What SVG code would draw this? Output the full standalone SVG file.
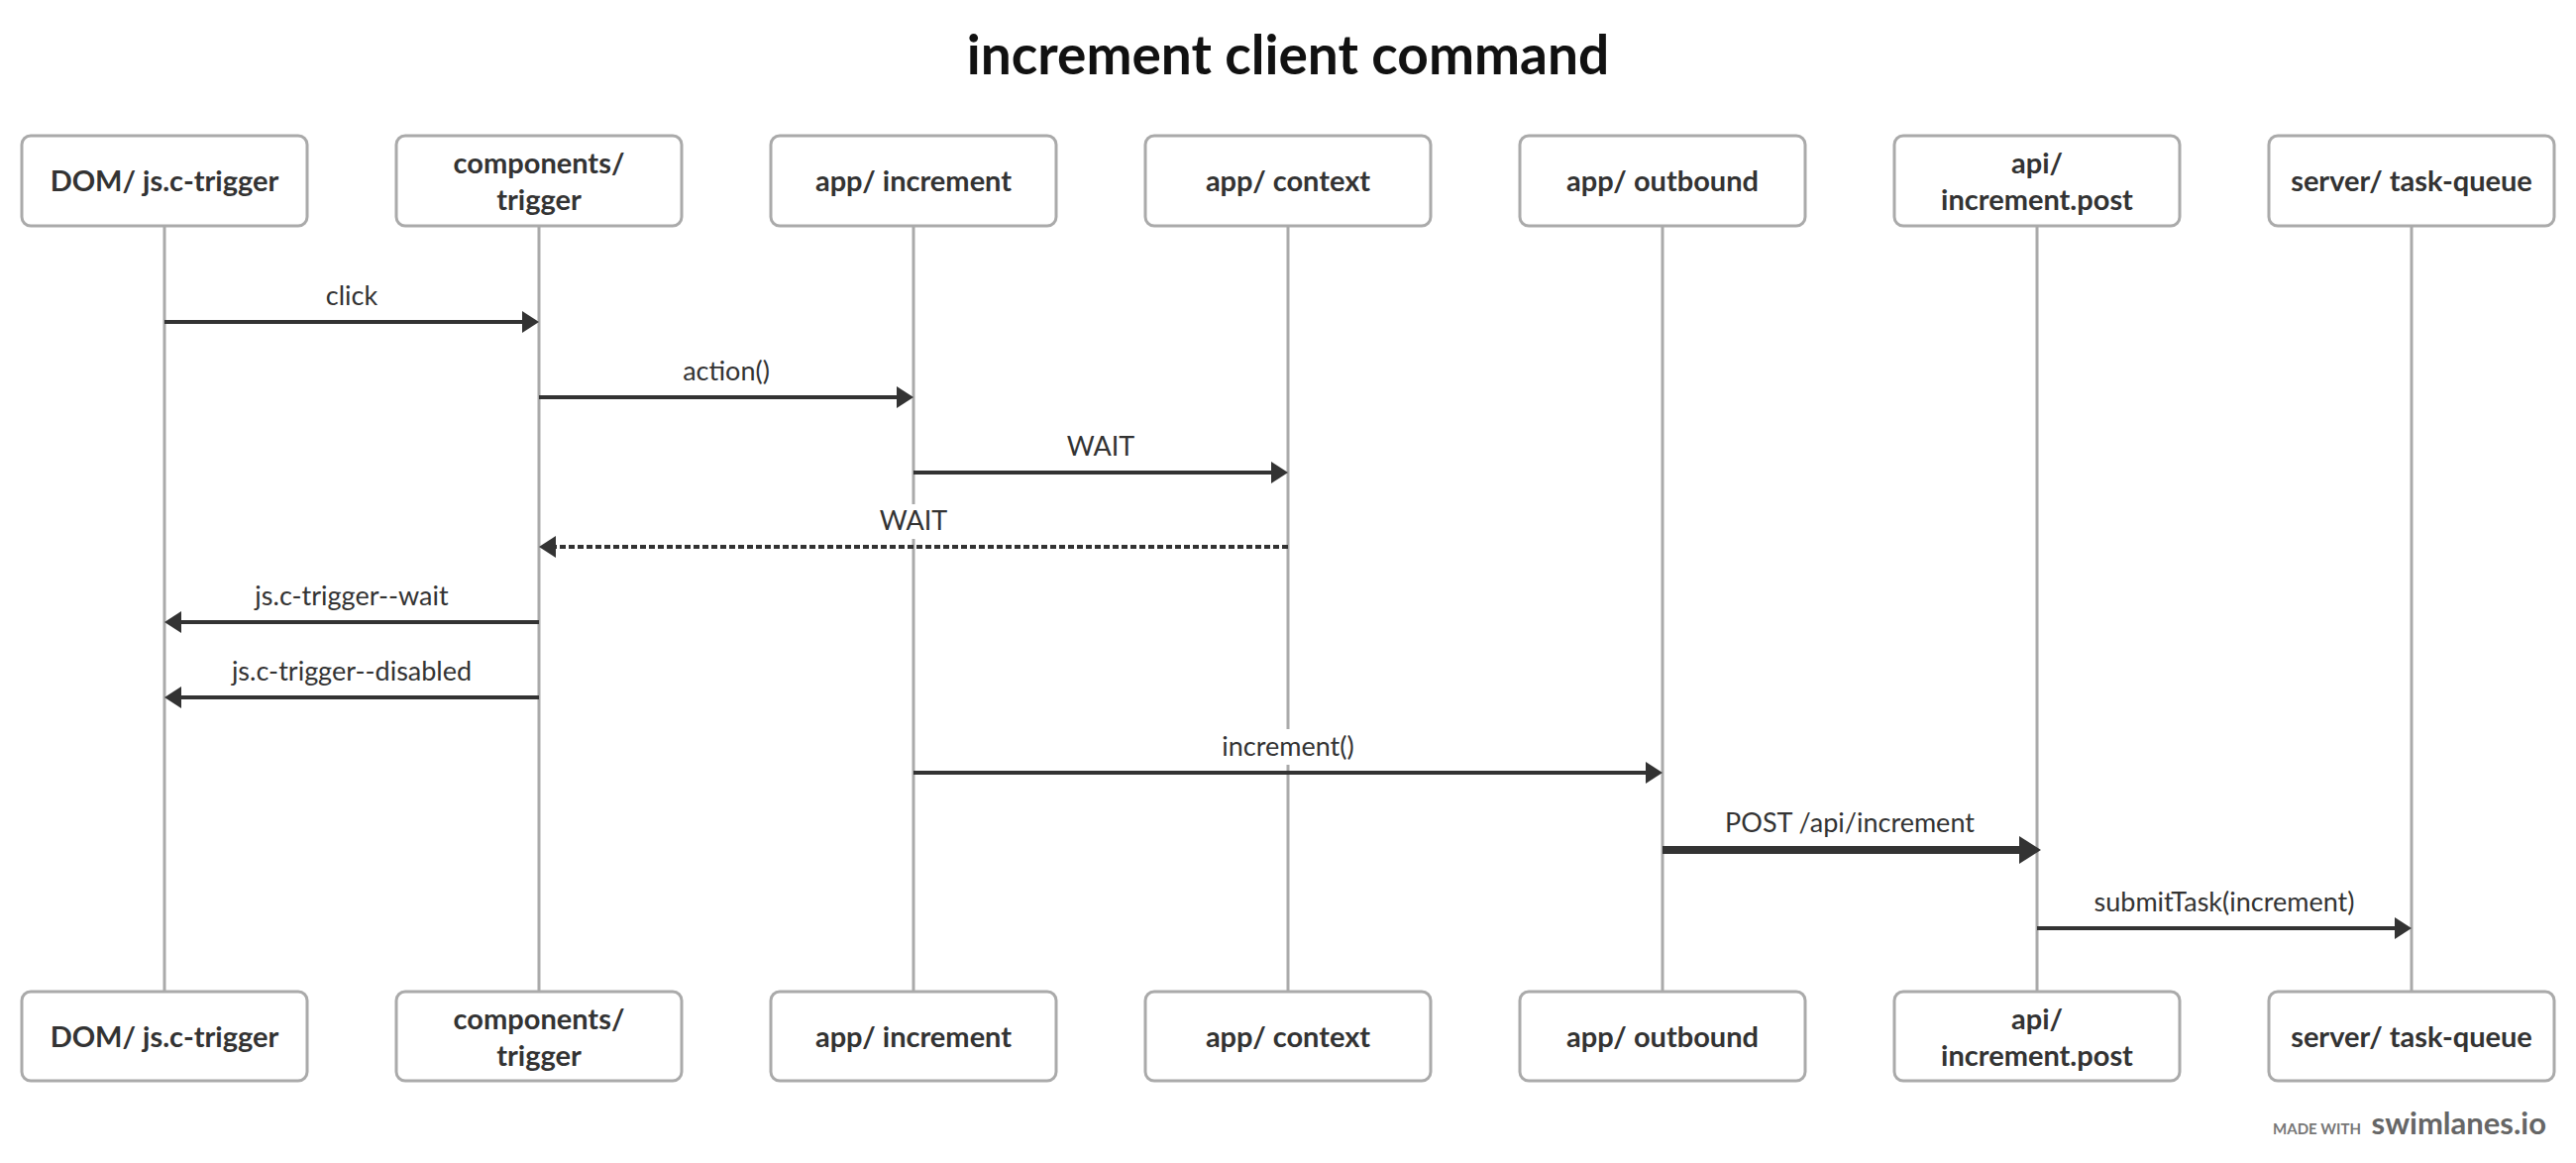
<svg xmlns="http://www.w3.org/2000/svg" width="2600" height="1174" viewBox="0 0 2600 1174">
<style>
.bg{fill:#fff}
.box{fill:#fff;stroke:#aaa;stroke-width:3}
.life{stroke:#aaa;stroke-width:3}
.nt{font-family:Lato,"Liberation Sans",sans-serif;font-weight:700;font-size:29px;fill:#333;text-anchor:middle}
.title{font-family:Lato,"Liberation Sans",sans-serif;font-weight:700;font-size:55px;fill:#111;text-anchor:middle}
.lbl{font-family:Lato,"Liberation Sans",sans-serif;font-weight:400;font-size:27px;fill:#333;text-anchor:middle}
.lblbg{fill:#fff}
.msg{stroke:#333;stroke-width:4;fill:none}
.dash{stroke-dasharray:6 3;stroke-width:4}
.thick{stroke-width:8}
.foot1{font-family:Lato,"Liberation Sans",sans-serif;font-weight:700;font-size:15px;fill:#777;text-anchor:end}
.foot2{font-family:Lato,"Liberation Sans",sans-serif;font-weight:700;font-size:31px;fill:#666;text-anchor:end}
</style>
<defs>
<marker id="ah" markerUnits="userSpaceOnUse" viewBox="0 -11 17 22" refX="1" refY="0" markerWidth="17" markerHeight="22" orient="auto">
<path d="M0,-11 L17,0 L0,11 Z" fill="#333"/>
</marker>
<marker id="ahBig" markerUnits="userSpaceOnUse" viewBox="0 -14 22 28" refX="1" refY="0" markerWidth="22" markerHeight="28" orient="auto">
<path d="M0,-14 L22,0 L0,14 Z" fill="#333"/>
</marker>
</defs>
<rect class="bg" x="0" y="0" width="2600" height="1174"/>
<text class="title" x="1300" y="75">increment client command</text>

<g id="lifelines">
<line class="life" x1="166" y1="229" x2="166" y2="1000"/>
<line class="life" x1="544" y1="229" x2="544" y2="1000"/>
<line class="life" x1="922" y1="229" x2="922" y2="1000"/>
<line class="life" x1="1300" y1="229" x2="1300" y2="1000"/>
<line class="life" x1="1678" y1="229" x2="1678" y2="1000"/>
<line class="life" x1="2056" y1="229" x2="2056" y2="1000"/>
<line class="life" x1="2434" y1="229" x2="2434" y2="1000"/>
</g>

<g id="connectors">
<g id="m1"><path class="msg" d="M166,325 H528" marker-end="url(#ah)"/><text class="lbl" x="355" y="308">click</text></g>
<g id="m2"><path class="msg" d="M544,401 H906" marker-end="url(#ah)"/><text class="lbl" x="733" y="384">action()</text></g>
<g id="m3"><path class="msg" d="M922,477 H1284" marker-end="url(#ah)"/><text class="lbl" x="1111" y="460">WAIT</text></g>
<g id="m4"><path class="msg dash" d="M1300,552 H560" marker-end="url(#ah)"/><rect class="lblbg" x="886" y="509" width="72" height="35"/><text class="lbl" x="922" y="535">WAIT</text></g>
<g id="m5"><path class="msg" d="M544,628 H182" marker-end="url(#ah)"/><text class="lbl" x="355" y="611">js.c-trigger--wait</text></g>
<g id="m6"><path class="msg" d="M544,704 H182" marker-end="url(#ah)"/><text class="lbl" x="355" y="687">js.c-trigger--disabled</text></g>
<g id="m7"><path class="msg" d="M922,780 H1662" marker-end="url(#ah)"/><rect class="lblbg" x="1226" y="736" width="148" height="36"/><text class="lbl" x="1300" y="763">increment()</text></g>
<g id="m8"><path class="msg thick" d="M1678,858 H2039" marker-end="url(#ahBig)"/><text class="lbl" x="1867" y="840">POST /api/increment</text></g>
<g id="m9"><path class="msg" d="M2056,937 H2418" marker-end="url(#ah)"/><text class="lbl" x="2245" y="920">submitTask(increment)</text></g>
</g>

<g id="n1-top"><rect class="box" x="22" y="137" width="288" height="91" rx="9"/><text class="nt" x="166" y="193">DOM/ js.c-trigger</text></g>
<g id="n2-top"><rect class="box" x="400" y="137" width="288" height="91" rx="9"/><text class="nt" x="544" y="175">components/</text><text class="nt" x="544" y="212">trigger</text></g>
<g id="n3-top"><rect class="box" x="778" y="137" width="288" height="91" rx="9"/><text class="nt" x="922" y="193">app/ increment</text></g>
<g id="n4-top"><rect class="box" x="1156" y="137" width="288" height="91" rx="9"/><text class="nt" x="1300" y="193">app/ context</text></g>
<g id="n5-top"><rect class="box" x="1534" y="137" width="288" height="91" rx="9"/><text class="nt" x="1678" y="193">app/ outbound</text></g>
<g id="n6-top"><rect class="box" x="1912" y="137" width="288" height="91" rx="9"/><text class="nt" x="2056" y="175">api/</text><text class="nt" x="2056" y="212">increment.post</text></g>
<g id="n7-top"><rect class="box" x="2290" y="137" width="288" height="91" rx="9"/><text class="nt" x="2434" y="193">server/ task-queue</text></g>

<g id="n1-bottom"><rect class="box" x="22" y="1001" width="288" height="90" rx="9"/><text class="nt" x="166" y="1057">DOM/ js.c-trigger</text></g>
<g id="n2-bottom"><rect class="box" x="400" y="1001" width="288" height="90" rx="9"/><text class="nt" x="544" y="1039">components/</text><text class="nt" x="544" y="1076">trigger</text></g>
<g id="n3-bottom"><rect class="box" x="778" y="1001" width="288" height="90" rx="9"/><text class="nt" x="922" y="1057">app/ increment</text></g>
<g id="n4-bottom"><rect class="box" x="1156" y="1001" width="288" height="90" rx="9"/><text class="nt" x="1300" y="1057">app/ context</text></g>
<g id="n5-bottom"><rect class="box" x="1534" y="1001" width="288" height="90" rx="9"/><text class="nt" x="1678" y="1057">app/ outbound</text></g>
<g id="n6-bottom"><rect class="box" x="1912" y="1001" width="288" height="90" rx="9"/><text class="nt" x="2056" y="1039">api/</text><text class="nt" x="2056" y="1076">increment.post</text></g>
<g id="n7-bottom"><rect class="box" x="2290" y="1001" width="288" height="90" rx="9"/><text class="nt" x="2434" y="1057">server/ task-queue</text></g>

<g id="footer">
<text class="foot1" x="2383" y="1145">MADE WITH</text>
<text class="foot2" x="2570" y="1145">swimlanes.io</text>
</g>
</svg>
